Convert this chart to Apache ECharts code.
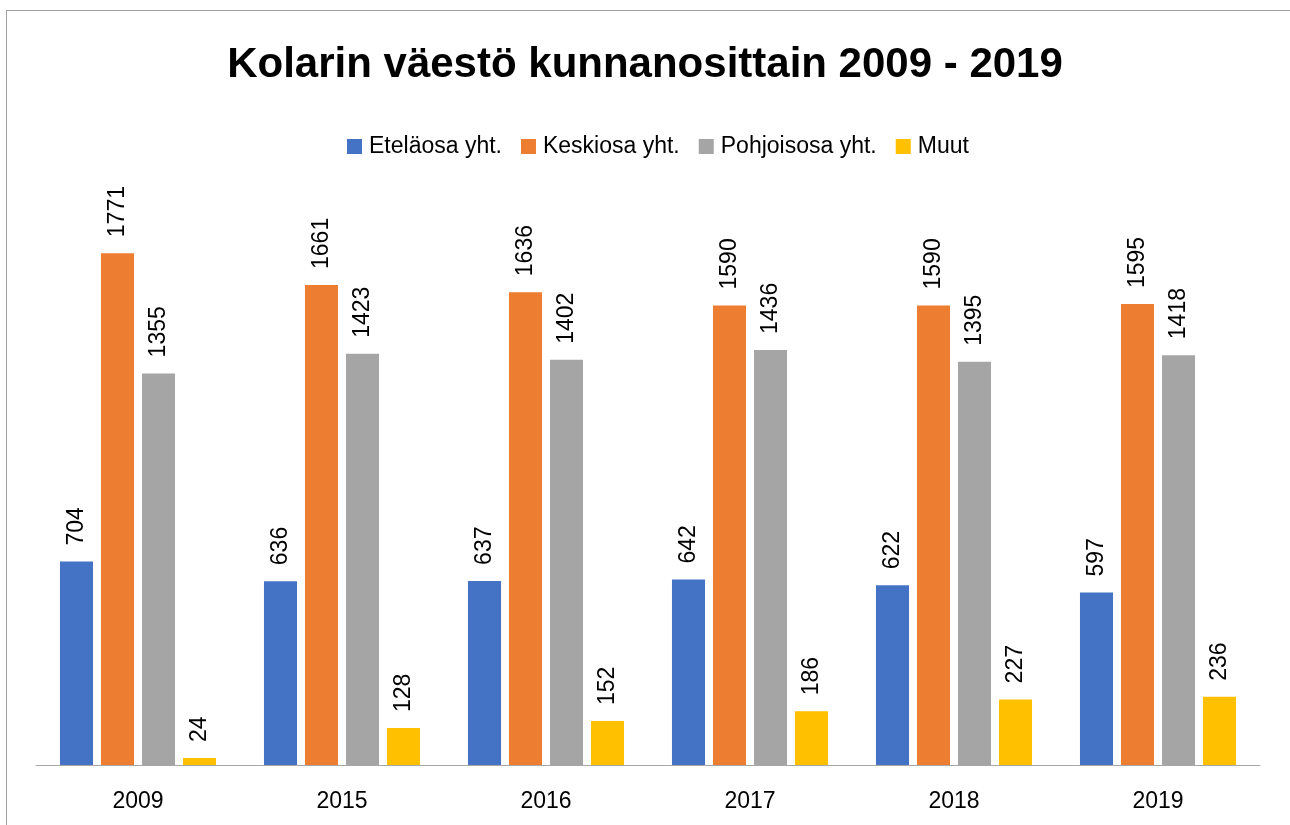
<!DOCTYPE html>
<html>
<head>
<meta charset="utf-8">
<script src="https://cdn.jsdelivr.net/npm/echarts@6/dist/echarts.min.js"></script>
<style>
  html, body { margin: 0; padding: 0; background: #fff; overflow: hidden; }
  #frame { position: absolute; left: 6px; top: 10px; width: 1400px; height: 900px; border: 1px solid #a0a0a0; }
  #main { position: absolute; left: 0; top: 0; width: 1290px; height: 825px; }
</style>
</head>
<body>
<div id="frame"></div>
<div id="main"></div>
<script>
// vuodet ja väestö kunnanosittain
const years = ["2009", "2015", "2016", "2017", "2018", "2019"];
const etelaosa = [704, 636, 637, 642, 622, 597];
const keskiosa = [1771, 1661, 1636, 1590, 1590, 1595];
const pohjoisosa = [1355, 1423, 1402, 1436, 1395, 1418];
const muut = [24, 128, 152, 186, 227, 236];

const seriesNames = ["Eteläosa yht.", "Keskiosa yht.", "Pohjoisosa yht.", "Muut"];
const seriesData = [etelaosa, keskiosa, pohjoisosa, muut];
const colors = ["#4472C4", "#ED7D31", "#A5A5A5", "#FFC000"];

var myChart = echarts.init(document.getElementById("main"));
var font = "'Liberation Sans', Arial, sans-serif";

var option = {
  backgroundColor: "transparent",
  color: colors,
  animation: false,
  title: {
    text: "Kolarin väestö kunnanosittain 2009 - 2019",
    left: "center",
    top: 39,
    textStyle: {
      fontFamily: font,
      fontSize: 42,
      fontWeight: "bold",
      color: "#000",
    },
  },
  legend: {
    left: 342,
    top: 130,
    itemWidth: 15,
    itemHeight: 15,
    itemGap: 19,
    icon: "rect",
    textStyle: {
      fontFamily: font,
      fontSize: 23,
      color: "#000",
      padding: [0, 0, 0, 2],
    },
    data: seriesNames,
  },
  grid: {
    left: 36,
    right: 30,
    top: 187,
    bottom: 60,
  },
  xAxis: {
    type: "category",
    data: years,
    axisLine: {
      show: true,
      lineStyle: { color: "#a6a6a6", width: 1 },
    },
    axisTick: { show: false },
    axisLabel: {
      margin: 25,
      fontFamily: font,
      fontSize: 23,
      color: "#000",
    },
  },
  yAxis: {
    type: "value",
    min: 0,
    max: 2000,
    show: false,
  },
  series: seriesData.map(function (d, i) {
    return {
      name: seriesNames[i],
      type: "bar",
      data: d,
      barGap: "24%",
      barCategoryGap: "23.5%",
      label: {
        show: true,
        position: "top",
        rotate: 90,
        align: "left",
        verticalAlign: "middle",
        distance: 16,
        fontFamily: font,
        fontSize: 23,
        color: "#000",
      },
    };
  }),
};

option && myChart.setOption(option);
</script>
</body>
</html>
